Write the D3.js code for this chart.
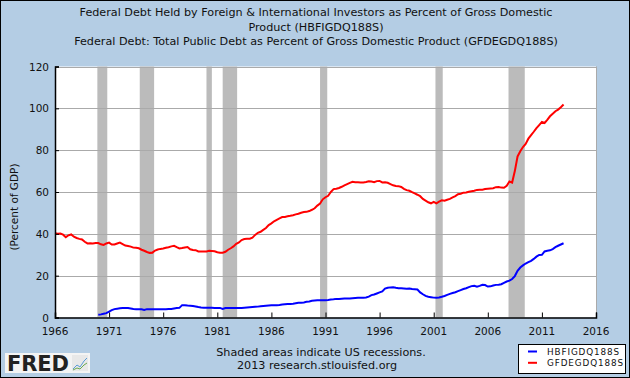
<!DOCTYPE html>
<html>
<head>
<meta charset="utf-8">
<script src="https://cdn.jsdelivr.net/npm/d3@7"></script>
<style>
body{margin:0;padding:0;background:#fff;}
text{font-family:"DejaVu Sans",Verdana,sans-serif;fill:#111;}
</style>
</head>
<body>
<div id="chart"></div>
<script>
// quarterly values, one row per year
var totalDebt = [ // GFDEGDQ188S, 1966Q1 - 2013Q1
  40.3,40.0,40.1,39.6, 38.4,39.3,39.7,38.6, 38.0,37.6,37.3,36.2, 35.4,35.5,35.4,35.6,
  35.6,35.0,34.7,35.4, 35.8,34.9,34.9,35.4, 35.8,35.1,34.4,34.2, 33.9,33.4,33.3,33.1,
  32.4,31.9,31.3,30.9, 31.0,32.0,32.5,32.8, 33.0,33.3,33.6,34.0, 34.3,33.6,33.0,33.2,
  33.5,33.7,32.6,32.3, 32.2,31.6,31.5,31.5, 31.6,31.9,31.8,31.7, 31.2,31.0,31.0,31.4,
  32.4,33.1,34.0,35.2, 35.9,37.0,37.5,37.6, 37.7,38.2,39.5,40.5, 41.0,41.9,42.8,44.2,
  45.0,46.0,46.7,47.4, 48.0,48.1,48.4,48.6, 48.9,49.3,49.6,50.1, 50.4,50.5,50.9,51.5,
  52.2,53.5,54.5,56.5, 57.5,58.2,60.0,61.4, 61.6,61.9,62.5,63.2, 63.8,64.4,64.9,64.7,
  64.7,64.6,64.6,64.8, 65.1,65.0,64.7,65.2, 65.3,64.6,64.7,64.4, 63.8,63.2,62.9,62.8,
  62.4,61.5,60.9,60.6, 59.9,59.3,58.7,58.0, 56.7,55.9,55.1,54.6, 55.3,54.6,55.4,56.0,
  55.8,56.3,56.7,57.4, 58.0,58.9,59.2,59.7, 59.8,60.1,60.4,60.6, 61.0,61.1,61.1,61.4,
  61.6,61.7,61.8,62.3, 62.4,62.1,62.0,63.0, 65.0,64.5,70.0,77.0, 79.5,81.5,83.0,85.5,
  87.2,88.8,90.5,92.0, 93.5,93.0,94.5,96.2, 97.4,98.6,99.4,100.5, 101.8
];
var foreignDebt = [ // HBFIGDQ188S, 1970Q1 - 2013Q1
  1.3,1.5,1.8,2.1, 2.8,3.5,4.0,4.2, 4.4,4.5,4.5,4.5, 4.3,4.1,4.0,4.0,
  3.9,3.6,4.0,4.0, 4.0,4.0,4.0,4.0, 4.0,4.0,4.1,4.1, 4.3,4.5,4.6,5.9,
  5.9,5.7,5.6,5.5, 5.3,5.0,4.8,4.7, 4.7,4.7,4.7,4.6, 4.6,4.6,4.1,4.5,
  4.6,4.6,4.6,4.6, 4.6,4.6,4.7,4.8, 4.9,5.0,5.1,5.2, 5.4,5.5,5.6,5.7,
  5.8,5.8,5.9,6.0, 6.2,6.3,6.4,6.5, 6.6,6.8,7.0,7.1, 7.2,7.5,7.7,8.0,
  8.1,8.2,8.3,8.3, 8.3,8.4,8.6,8.7, 8.9,8.9,9.0,9.1, 9.1,9.1,9.2,9.3,
  9.4,9.5,9.5,9.6, 10.0,10.7,11.0,11.5, 12.0,12.5,13.8,14.2, 14.4,14.5,14.2,14.0,
  14.0,13.9,13.8,13.9, 13.6,13.5,13.4,12.0, 11.1,10.3,9.9,9.7, 9.5,9.4,9.6,9.9,
  10.3,10.8,11.3,11.7, 12.1,12.6,13.1,13.6, 14.0,14.5,15.0,15.2, 14.7,15.1,15.6,15.5,
  14.8,14.9,15.3,15.6, 15.7,15.9,16.6,17.2, 17.6,18.4,19.8,22.3, 23.9,24.9,25.8,26.5,
  27.1,28.0,29.1,29.9, 30.0,31.6,31.9,32.1, 32.7,33.6,34.3,34.9, 35.5
];
var recessions = [
  ["1969-12-01","1970-11-01"],["1973-11-01","1975-03-01"],["1980-01-01","1980-07-01"],
  ["1981-07-01","1982-11-01"],["1990-07-01","1991-03-01"],["2001-03-01","2001-11-01"],
  ["2007-12-01","2009-06-01"]
];
var yTicks = [0,20,40,60,80,100,120];
var xTicks = [1966,1971,1976,1981,1986,1991,1996,2001,2006,2011,2016];
var titleLines = [
  "Federal Debt Held by Foreign & International Investors as Percent of Gross Domestic",
  "Product (HBFIGDQ188S)",
  "Federal Debt: Total Public Debt as Percent of Gross Domestic Product (GFDEGDQ188S)"
];
var seriesNames = ["HBFIGDQ188S","GFDEGDQ188S"];
var seriesColors = ["#0000ff","#ff0000"];

var W = 630, H = 378;
var m = {left:55, right:34, top:66.5, bottom:60.5};
var parse = d3.timeParse("%Y-%m-%d");

function toSeries(vals, startYear){
  return vals.map(function(v,i){
    return {date:new Date(startYear + Math.floor(i/4), (i%4)*3, 1), value:v};
  });
}
var total = toSeries(totalDebt, 1966);
var foreign = toSeries(foreignDebt, 1970);

var svg = d3.select("#chart").append("svg").attr("width",W).attr("height",H);
svg.append("rect").attr("x",0.5).attr("y",0.5).attr("width",W-1).attr("height",H-1)
  .attr("fill","#b4cde4").attr("stroke","#000");

var x = d3.scaleTime()
  .domain([new Date(1966,0,1), new Date(2016,0,1)])
  .range([m.left, W-m.right]);
var y = d3.scaleLinear().domain([0,120]).range([H-m.bottom, m.top]);

// plot background
svg.append("rect").attr("x",m.left).attr("y",m.top)
  .attr("width",W-m.right-m.left).attr("height",H-m.bottom-m.top)
  .attr("fill","#fff");

// recession shading
svg.selectAll(".rec").data(recessions).enter().append("rect")
  .attr("class","rec")
  .attr("x",function(d){return x(parse(d[0]));})
  .attr("width",function(d){return x(parse(d[1]))-x(parse(d[0]));})
  .attr("y",m.top).attr("height",H-m.bottom-m.top)
  .attr("fill","#bbbbbb");

// gridlines
svg.selectAll(".grid").data(yTicks.slice(1)).enter().append("line")
  .attr("x1",m.left).attr("x2",W-m.right)
  .attr("y1",function(d){return Math.round(y(d))+0.5;})
  .attr("y2",function(d){return Math.round(y(d))+0.5;})
  .attr("stroke","#aaaaaa");
svg.append("line").attr("x1",W-m.right+0.5).attr("x2",W-m.right+0.5)
  .attr("y1",m.top).attr("y2",H-m.bottom).attr("stroke","#aaaaaa");

// lines
var line = d3.line().x(function(d){return x(d.date);}).y(function(d){return y(d.value);});
svg.append("path").datum(foreign).attr("d",line)
  .attr("fill","none").attr("stroke",seriesColors[0]).attr("stroke-width",2);
svg.append("path").datum(total).attr("d",line)
  .attr("fill","none").attr("stroke",seriesColors[1]).attr("stroke-width",2);

// axes
var yAxis = svg.append("g").attr("transform","translate("+m.left+",0)")
  .call(d3.axisRight(y).tickValues(yTicks).tickSize(4).tickFormat(d3.format("d")));
yAxis.selectAll("text").remove();
yAxis.select(".domain").attr("stroke","#000").attr("stroke-width",1.5);
svg.selectAll(".ylab").data(yTicks).enter().append("text")
  .attr("x",m.left-6).attr("y",function(d){return y(d)+4;})
  .attr("text-anchor","end").style("font-size","10.5px").text(function(d){return d;});

var xAxis = svg.append("g").attr("transform","translate(0,"+(H-m.bottom)+")")
  .call(d3.axisTop(x).tickValues(xTicks.map(function(t){return new Date(t,0,1);})).tickSize(5));
xAxis.selectAll("text").remove();
xAxis.select(".domain").attr("stroke","#000").attr("stroke-width",1.5);
svg.selectAll(".xlab").data(xTicks).enter().append("text")
  .attr("x",function(d){return x(new Date(d,0,1));}).attr("y",H-m.bottom+17)
  .attr("text-anchor","middle").style("font-size","10.5px").text(function(d){return d;});

svg.append("text").attr("transform","translate(18,207) rotate(-90)")
  .attr("text-anchor","middle").style("font-size","10.5px").text("(Percent of GDP)");

// title
svg.selectAll(".title").data(titleLines).enter().append("text")
  .attr("x",316).attr("y",function(d,i){return 16+i*14.5;})
  .attr("text-anchor","middle").style("font-size","11.2px").text(function(d){return d;});

// footer
svg.append("text").attr("x",321).attr("y",356).attr("text-anchor","middle")
  .style("font-size","11.2px").text("Shaded areas indicate US recessions.");
svg.append("text").attr("x",317).attr("y",369).attr("text-anchor","middle")
  .style("font-size","11.2px").text("2013 research.stlouisfed.org");

// legend
var lg = svg.append("g");
lg.append("rect").attr("x",518.5).attr("y",344.5).attr("width",107).attr("height",29)
  .attr("fill","#fff").attr("stroke","#000");
seriesNames.forEach(function(n,i){
  lg.append("line").attr("x1",528).attr("x2",537).attr("y1",351.5+i*11.3).attr("y2",351.5+i*11.3)
    .attr("stroke",seriesColors[i]).attr("stroke-width",2);
  lg.append("text").attr("x",547).attr("y",354.5+i*11.3).style("font-size","8.8px")
    .style("letter-spacing","0.9px").text(n);
});

// FRED logo
var logo = svg.append("g");
logo.append("rect").attr("x",5).attr("y",353).attr("width",85).attr("height",20).attr("fill","#f4f4f4");
logo.append("text").attr("x",7).attr("y",371).style("font-size","21px").style("font-weight","bold")
  .style("font-family","'DejaVu Sans',sans-serif").style("fill","#222").attr("textLength",62)
  .text("FRED");
logo.append("rect").attr("x",72).attr("y",355).attr("width",16).attr("height",16).attr("fill","#e8e8e8");
logo.append("polyline").attr("points","73,369 77,365 80,367 84,361 87,358")
  .attr("fill","none").attr("stroke","#5a9bd5").attr("stroke-width",1);
logo.append("polyline").attr("points","73,370 77,368 80,369 84,365 87,363")
  .attr("fill","none").attr("stroke","#6aa84f").attr("stroke-width",1);
</script>
</body>
</html>
